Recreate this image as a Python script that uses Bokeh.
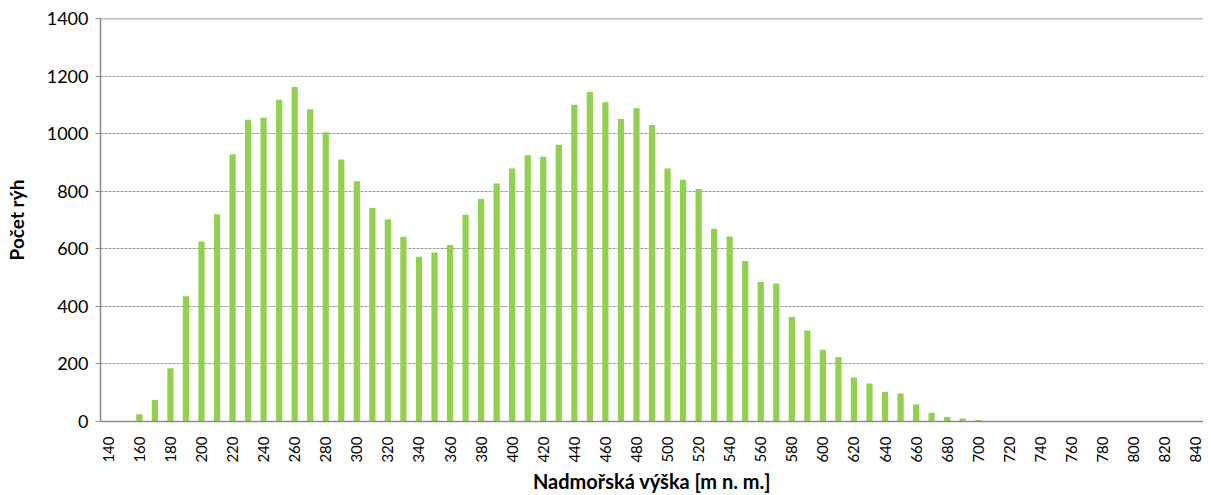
from bokeh.plotting import figure
from bokeh.models import Range1d, FixedTicker, Span
from bokeh.embed import file_html
from bokeh.resources import INLINE
import math

# Elevation classes (m a.s.l.) and counts of gullies
elevations = list(range(140, 850, 10))
counts = [0, 0, 25, 75, 185, 435, 625, 720, 928, 1048,
          1055, 1118, 1162, 1085, 1005, 910, 835, 742, 703, 642,
          572, 587, 613, 718, 773, 827, 879, 925, 920, 961,
          1100, 1145, 1109, 1051, 1088, 1030, 879, 840, 808, 670,
          643, 558, 485, 479, 363, 316, 249, 224, 153, 132,
          103, 97, 59, 30, 16, 10, 5, 1, 0, 0,
          0, 0, 0, 0, 0, 0, 0, 0, 0, 0, 0]
x_ticks = list(range(140, 850, 20))
y_ticks = list(range(0, 1401, 200))

FONT = "Lato"

p = figure(width=1203, height=495, output_backend="svg", toolbar_location=None,
           x_range=Range1d(135, 845), y_range=Range1d(0, 1400))
p.min_border_left = 100
p.min_border_top = 18
p.min_border_right = 0
p.min_border_bottom = 74
p.outline_line_color = None

p.vbar(x=elevations, top=counts, width=4.0, color="#92D050", line_color=None)

p.add_layout(Span(location=1400, dimension="width", line_color="#7f7f7f", line_width=1.5))

p.xgrid.grid_line_color = None
p.ygrid.ticker = FixedTicker(ticks=y_ticks)
p.ygrid.grid_line_color = "#9a9a9a"
p.ygrid.grid_line_dash = "3 1"
p.ygrid.grid_line_width = 1

p.xaxis.ticker = FixedTicker(ticks=x_ticks)
p.xaxis.major_label_orientation = math.pi / 2
p.xaxis.major_label_text_font = FONT
p.xaxis.major_label_text_font_size = "15px"
p.xaxis.major_label_text_color = "#000000"
p.xaxis.major_tick_line_color = None
p.xaxis.minor_tick_line_color = None
p.xaxis.axis_line_color = "#8c8c8c"
p.xaxis.axis_line_width = 1.5
p.xaxis.major_label_standoff = 9
p.xaxis.axis_label = "Nadmořská výška [m n. m.]"
p.xaxis.axis_label_text_font = FONT
p.xaxis.axis_label_text_font_style = "bold"
p.xaxis.axis_label_text_font_size = "20px"
p.xaxis.axis_label_text_color = "#000000"
p.xaxis.axis_label_standoff = 3

p.yaxis.ticker = FixedTicker(ticks=y_ticks)
p.yaxis.major_label_text_font = FONT
p.yaxis.major_label_text_font_size = "18px"
p.yaxis.major_label_text_color = "#000000"
p.yaxis.major_tick_line_color = "#8c8c8c"
p.yaxis.major_tick_out = 5
p.yaxis.major_tick_in = 0
p.yaxis.minor_tick_line_color = None
p.yaxis.axis_line_color = "#8c8c8c"
p.yaxis.axis_line_width = 1.5
p.yaxis.major_label_standoff = 7
p.yaxis.axis_label = "Počet rýh"
p.yaxis.axis_label_text_font = FONT
p.yaxis.axis_label_text_font_style = "bold"
p.yaxis.axis_label_text_font_size = "19px"
p.yaxis.axis_label_text_color = "#000000"
p.yaxis.axis_label_standoff = 16

open("out.html", "w").write(file_html(p, INLINE))
